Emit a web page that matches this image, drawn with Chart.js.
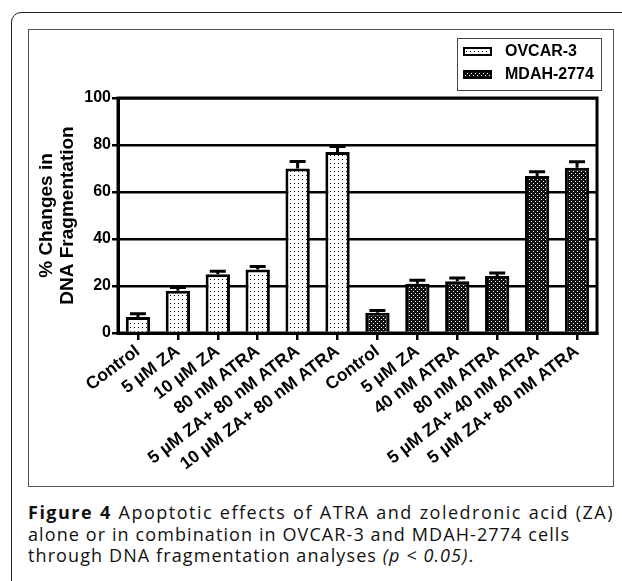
<!DOCTYPE html>
<html>
<head>
<meta charset="utf-8">
<script src="https://cdn.jsdelivr.net/npm/chart.js@4/dist/chart.umd.min.js"></script>
<style>
html, body { margin: 0; padding: 0; background: #fff; }
body { position: relative; width: 622px; height: 581px; overflow: hidden; }
#outer { position: absolute; left: 11px; top: 12px; width: 640px; height: 620px; border: 1.5px solid #222; border-radius: 10px; }
#frame { position: absolute; left: 28px; top: 29px; width: 586px; height: 458px; border: 1px solid #555; box-sizing: border-box; }
#chart { position: absolute; left: 29px; top: 30px; }
.caption { position: absolute; left: 28px; top: 502px; width: 586px; font-family: "Open Sans", sans-serif; font-size: 18px; line-height: 21.5px; letter-spacing: 1.1px; color: #111; white-space: nowrap; }
.caption .l1 { white-space: normal; letter-spacing: 1.5px; text-align: justify; text-align-last: justify; }
</style>
</head>
<body>
<div id="outer"></div>
<div id="frame"></div>
<canvas id="chart" width="584" height="456"></canvas>
<div class="caption">
  <div class="l1"><b>Figure 4</b> Apoptotic effects of ATRA and zoledronic acid (ZA)</div>
  <div>alone or in combination in OVCAR-3 and MDAH-2774 cells</div>
  <div>through DNA fragmentation analyses <i>(p &lt; 0.05)</i>.</div>
</div>
<script>
// Treatment groups per cell line
const ovcarLabels = ['Control', '5 µM ZA', '10 µM ZA', '80 nM ATRA', '5 µM ZA+ 80 nM ATRA', '10 µM ZA+ 80 nM ATRA'];
const mdahLabels = ['Control', '5 µM ZA', '40 nM ATRA', '80 nM ATRA', '5 µM ZA+ 40 nM ATRA', '5 µM ZA+ 80 nM ATRA'];

// % changes in DNA fragmentation (mean and upper error)
const ovcarMeans = [6.8, 18, 25, 27, 70, 77];
const ovcarErrors = [1.4, 1.4, 1.3, 1.3, 3, 2.4];
const mdahMeans = [8.6, 21, 22, 24.3, 66.8, 70.3];
const mdahErrors = [1, 1.4, 1.4, 1.2, 1.8, 2.6];

const yTicks = [0, 20, 40, 60, 80, 100];

const FONT = '"Liberation Sans", Arial, sans-serif';

// Fill patterns
function makePattern(bg, fg, dots) {
    const c = document.createElement('canvas');
    c.width = 4; c.height = 4;
    const g = c.getContext('2d');
    g.fillStyle = bg;
    g.fillRect(0, 0, 4, 4);
    g.fillStyle = fg;
    dots.forEach(d => g.fillRect(d[0], d[1], 1, 1));
    return g.createPattern(c, 'repeat');
}
const ovcarFill = makePattern('#fff', '#000', [[1, 1]]);
const mdahFill = makePattern('#111', '#fff', [[0, 1], [2, 3]]);

const empty = Array(6).fill(null);

// Upward error bars
const errorBars = {
    id: 'errorBars',
    afterDatasetsDraw(chart) {
        const ctx = chart.ctx;
        const y = chart.scales.y;
        chart.data.datasets.forEach((ds, i) => {
            const meta = chart.getDatasetMeta(i);
            meta.data.forEach((bar, j) => {
                const v = ds.data[j];
                if (v == null) return;
                const top = y.getPixelForValue(v + ds.errors[j]);
                ctx.save();
                ctx.strokeStyle = '#000';
                ctx.lineWidth = 3;
                ctx.beginPath();
                ctx.moveTo(bar.x, bar.y);
                ctx.lineTo(bar.x, top);
                ctx.moveTo(bar.x - 8, top);
                ctx.lineTo(bar.x + 8, top);
                ctx.stroke();
                ctx.restore();
            });
        });
    }
};

// Box round the plot area
const plotFrame = {
    id: 'plotFrame',
    beforeDatasetsDraw(chart) {
        const { ctx, chartArea: a } = chart;
        ctx.save();
        ctx.strokeStyle = '#000';
        ctx.lineWidth = 3;
        ctx.strokeRect(a.left, a.top, a.right - a.left, a.bottom - a.top);
        ctx.restore();
    }
};

// Boxed legend, top right
const boxLegend = {
    id: 'boxLegend',
    afterDraw(chart) {
        const ctx = chart.ctx;
        ctx.save();
        ctx.strokeStyle = '#444';
        ctx.lineWidth = 1;
        ctx.strokeRect(428.5, 8.5, 144, 52);
        chart.data.datasets.forEach((ds, i) => {
            const y = 17 + i * 23;
            ctx.fillStyle = ds.backgroundColor;
            ctx.fillRect(434, y, 29, 9);
            ctx.strokeStyle = '#000';
            ctx.lineWidth = 2;
            ctx.strokeRect(435, y + 1, 27, 7);
            ctx.fillStyle = '#000';
            ctx.font = 'bold 16px ' + FONT;
            ctx.textBaseline = 'middle';
            ctx.fillText(ds.label, 476, y + 5);
        });
        ctx.restore();
    }
};

new Chart(document.getElementById('chart'), {
    type: 'bar',
    data: {
        labels: [...ovcarLabels, ...mdahLabels],
        datasets: [
            {
                label: 'OVCAR-3',
                data: [...ovcarMeans, ...empty],
                errors: [...ovcarErrors, ...empty],
                backgroundColor: ovcarFill,
                borderColor: '#000',
                borderWidth: 3,
                borderSkipped: 'start'
            },
            {
                label: 'MDAH-2774',
                data: [...empty, ...mdahMeans],
                errors: [...empty, ...mdahErrors],
                backgroundColor: mdahFill,
                borderColor: '#000',
                borderWidth: 3,
                borderSkipped: 'start'
            }
        ]
    },
    options: {
        responsive: false,
        animation: false,
        grouped: false,
        barPercentage: 0.61,
        categoryPercentage: 1,
        layout: { padding: { left: 0, top: 68, right: 16, bottom: 0 } },
        plugins: {
            legend: { display: false },
            tooltip: { enabled: false }
        },
        scales: {
            x: {
                afterFit: s => { s.height = 153; },
                grid: {
                    offset: false,
                    drawOnChartArea: false,
                    color: '#000',
                    lineWidth: 2.5,
                    tickLength: 7
                },
                border: { color: '#000', width: 3 },
                ticks: {
                    autoSkip: false,
                    minRotation: 37,
                    maxRotation: 37,
                    padding: 1,
                    color: '#000',
                    font: { family: FONT, size: 17.5, weight: 'bold' }
                }
            },
            y: {
                min: 0,
                max: 100,
                afterFit: s => { s.width = 89; },
                afterBuildTicks: s => { s.ticks = yTicks.map(v => ({ value: v })); },
                grid: {
                    color: '#000',
                    lineWidth: 2.5,
                    tickLength: 6
                },
                border: { color: '#000', width: 3 },
                ticks: {
                    padding: 1,
                    color: '#000',
                    font: { family: FONT, size: 16, weight: 'bold' }
                },
                title: {
                    display: true,
                    text: ['% Changes in', 'DNA Fragmentation'],
                    color: '#000',
                    padding: { top: 7, bottom: 0 },
                    font: { family: FONT, size: 19, weight: 'bold', lineHeight: 1.1 }
                }
            }
        }
    },
    plugins: [errorBars, plotFrame, boxLegend]
});
</script>
</body>
</html>
